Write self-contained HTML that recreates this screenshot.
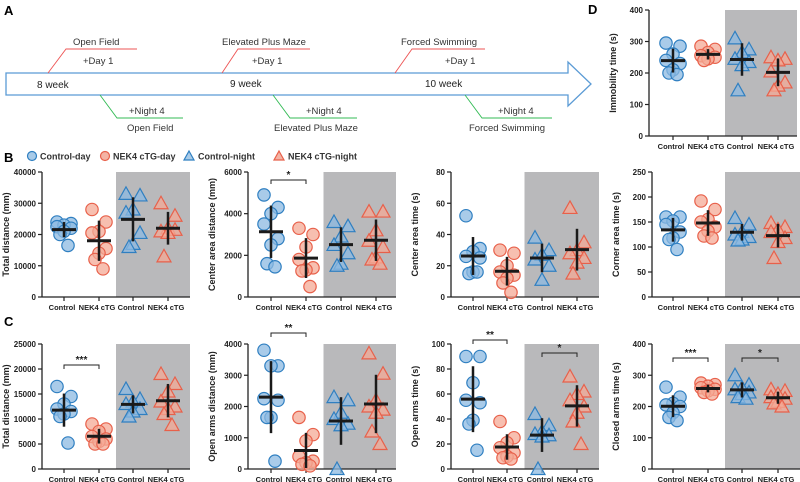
<!DOCTYPE html>
<html><head><meta charset="utf-8"><style>
html,body{margin:0;padding:0;background:#fff;}
svg{display:block;font-family:"Liberation Sans",Arial,sans-serif;}
</style></head><body>
<svg id="fig" width="800" height="482" viewBox="0 0 800 482" xmlns="http://www.w3.org/2000/svg">
<g>
<text x="4" y="15" font-size="13" font-weight="bold">A</text>
<path d="M6,73 H568 V62 L591,84 L568,106 V95 H6 Z" fill="#fff" stroke="#5b9bd5" stroke-width="1.3"/>
<text x="37" y="88" font-size="10" fill="#222">8 week</text>
<text x="230" y="87" font-size="10" fill="#222">9 week</text>
<text x="425" y="87" font-size="10" fill="#222">10 week</text>
<g stroke="#ee5555" fill="none" stroke-width="0.9">
<path d="M48,73 L66,49 H137"/><path d="M222,73 L238,49 H310"/><path d="M395,73 L412,49 H485"/></g>
<g stroke="#33bb55" fill="none" stroke-width="0.9">
<path d="M100,95 L117,118 H183"/><path d="M273,95 L290,118 H357"/><path d="M465,95 L482,118 H552"/></g>
<g font-size="9.5" fill="#333">
<text x="73" y="45">Open Field</text>
<text x="83" y="64">+Day 1</text>
<text x="222" y="45">Elevated Plus Maze</text>
<text x="252" y="64">+Day 1</text>
<text x="401" y="45">Forced Swimming</text>
<text x="445" y="64">+Day 1</text>
<text x="129" y="114">+Night 4</text>
<text x="127" y="131">Open Field</text>
<text x="306" y="114">+Night 4</text>
<text x="274" y="131">Elevated Plus Maze</text>
<text x="498" y="114">+Night 4</text>
<text x="469" y="131">Forced Swimming</text>
</g></g>
<text x="4" y="162" font-size="13" font-weight="bold">B</text>
<text x="4" y="326" font-size="13" font-weight="bold">C</text>
<text x="588" y="14" font-size="13" font-weight="bold">D</text>
<g font-size="9" font-weight="bold" fill="#333">
<circle cx="32" cy="156" r="4.5" fill="#a9cbe8" stroke="#2f7fc1" stroke-width="1.2"/><text x="40" y="159.5">Control-day</text>
<circle cx="105" cy="156" r="4.5" fill="#f4b3a4" stroke="#e8604a" stroke-width="1.2"/><text x="113" y="159.5">NEK4 cTG-day</text>
<path d="M189,151 L194,160 H184 Z" fill="#a9cbe8" stroke="#2f7fc1" stroke-width="1.2"/><text x="198" y="159.5">Control-night</text>
<path d="M279,151 L284,160 H274 Z" fill="#f4b3a4" stroke="#e8604a" stroke-width="1.2"/><text x="288" y="159.5">NEK4 cTG-night</text>
</g>
<g id="charts"></g>
</svg>
<script>
// ---- data ----
const categories = ["Control","NEK4 cTG","Control","NEK4 cTG"];
const b1CtrlDay=[24000,23500,23000,22500,22000,21000,20000,16500];
const b1NekDay=[28000,24000,21000,20500,15500,14000,12000,9000];
const b1CtrlNight=[33000,32500,28000,27000,20500,17000,16000];
const b1NekNight=[30000,26000,22000,21000,21500,20500,13000];
const b2CtrlDay=[4900,4300,4000,3500,2800,2500,1600,1450];
const b2NekDay=[3300,3000,2400,1800,1400,1300,1250,500];
const b2CtrlNight=[3600,3400,2900,2500,2100,1600,1500];
const b2NekNight=[4100,4100,3200,2700,2400,1900,1800,1600];
const b3CtrlDay=[52,31,29,26,25,16,15,16];
const b3NekDay=[30,28,20,16,14,12,9,3];
const b3CtrlNight=[38,30,27,24,20,11];
const b3NekNight=[57,35,30,28,25,22,15];
const d1CtrlDay=[295,285,260,240,230,210,200,195];
const d1NekDay=[285,275,265,255,250,245,240];
const d1CtrlNight=[310,275,265,245,235,225,145];
const d1NekNight=[250,245,240,205,170,160,145];
const d2CtrlDay=[160,160,152,145,130,118,115,95];
const d2NekDay=[192,175,155,150,140,132,122,118];
const d2CtrlNight=[158,145,130,125,120,115,113];
const d2NekNight=[148,140,135,130,118,110,78];
const c1CtrlDay=[16500,14500,13000,12000,11500,11000,10500,5200];
const c1NekDay=[9000,8000,7500,6500,6000,5500,5000,5000];
const c1CtrlNight=[16000,14000,13500,13000,12000,11500,10500];
const c1NekNight=[19000,17000,15500,13500,12500,12000,11000,8800];
const c2CtrlDay=[3800,3300,3300,2250,2200,1650,1650,250];
const c2NekDay=[1650,1100,900,400,250,200,150,100];
const c2CtrlNight=[2300,2200,1800,1600,1450,1400,0];
const c2NekNight=[3700,3050,2200,2000,1900,1800,1200,800];
const c3CtrlDay=[90,90,69,55,53,39,36,15];
const c3NekDay=[38,25,21,17,13,10,9,8];
const c3CtrlNight=[44,35,30,28,27,26,0];
const c3NekNight=[74,62,60,55,50,45,38,20];
const c4CtrlDay=[262,230,210,205,200,180,165,155];
const c4NekDay=[275,270,265,260,255,250,245,240];
const c4CtrlNight=[300,270,260,255,245,240,230,225];
const c4NekNight=[255,250,240,230,225,215,210,200];

const panels=[
 {n:"total-distance-of",ax:42,top:172,bot:297,max:40000,step:10000,title:"Total distance (mm)",cx:[64,99,133,168],d:[b1CtrlDay,b1NekDay,b1CtrlNight,b1NekNight],sig:[]},
 {n:"center-area-distance",ax:248,top:172,bot:297,max:6000,step:2000,title:"Center area distance (mm)",cx:[271,306,341,376],d:[b2CtrlDay,b2NekDay,b2CtrlNight,b2NekNight],sig:[[0,1,180,"*"]]},
 {n:"center-area-time",ax:451,top:172,bot:297,max:80,step:20,title:"Center area time (s)",cx:[473,507,542,577],d:[b3CtrlDay,b3NekDay,b3CtrlNight,b3NekNight],sig:[]},
 {n:"immobility-time",ax:649,top:10,bot:136,max:400,step:100,title:"Immobility time (s)",cx:[673,708,742,778],d:[d1CtrlDay,d1NekDay,d1CtrlNight,d1NekNight],sig:[]},
 {n:"corner-area-time",ax:652,top:172,bot:297,max:250,step:50,title:"Corner area time (s)",cx:[673,708,742,778],d:[d2CtrlDay,d2NekDay,d2CtrlNight,d2NekNight],sig:[]},
 {n:"total-distance-epm",ax:42,top:344,bot:469,max:25000,step:5000,title:"Total distance (mm)",cx:[64,99,133,168],d:[c1CtrlDay,c1NekDay,c1CtrlNight,c1NekNight],sig:[[0,1,365,"***"]]},
 {n:"open-arms-distance",ax:248,top:344,bot:469,max:4000,step:1000,title:"Open arms distance (mm)",cx:[271,306,341,376],d:[c2CtrlDay,c2NekDay,c2CtrlNight,c2NekNight],sig:[[0,1,333,"**"]]},
 {n:"open-arms-time",ax:451,top:344,bot:469,max:100,step:20,title:"Open arms time (s)",cx:[473,507,542,577],d:[c3CtrlDay,c3NekDay,c3CtrlNight,c3NekNight],sig:[[0,1,340,"**"],[2,3,353,"*"]]},
 {n:"closed-arms-time",ax:652,top:344,bot:469,max:400,step:100,title:"Closed arms time (s)",cx:[673,708,742,778],d:[c4CtrlDay,c4NekDay,c4CtrlNight,c4NekNight],sig:[[0,1,358,"***"],[2,3,358,"*"]]}
];
const NS="http://www.w3.org/2000/svg";
const root=document.getElementById("charts");
function mk(tag,attrs,parent){const e=document.createElementNS(NS,tag);for(const k in attrs)e.setAttribute(k,attrs[k]);parent.appendChild(e);return e;}
const jit=[-7,7,0,-7,7,0,-4,4];
const blue={s:"#2f7fc1",f:"rgba(140,185,225,0.75)"},red={s:"#e8604a",f:"rgba(244,170,150,0.75)"};
panels.forEach(p=>{
 const g=mk("g",{},root);
 
 
 const y=v=>p.bot-(v/p.max)*(p.bot-p.top);
 const gx0=(p.cx[1]+p.cx[2])/2, gx1=p.ax+148;
 const bg=mk("rect",{x:gx0,y:p.top,width:gx1-gx0,height:p.bot-p.top,fill:"#b9b9bb"},g);
 
 
 const ya=mk("line",{x1:p.ax,y1:p.top,x2:p.ax,y2:p.bot,stroke:"#222","stroke-width":1.3},g);
 
 
 const xa=mk("line",{x1:p.ax,y1:p.bot,x2:gx1,y2:p.bot,stroke:"#222","stroke-width":1.3},g);
 
 
 for(let v=0;v<=p.max;v+=p.step){
  mk("line",{x1:p.ax-4,y1:y(v),x2:p.ax,y2:y(v),stroke:"#222","stroke-width":1.2},g);
  const t=mk("text",{x:p.ax-6,y:y(v)+3,"font-size":8,"font-weight":"bold","text-anchor":"end",fill:"#222"},g);
  t.textContent=v;
  
  
 }
 const yt=mk("text",{x:0,y:0,"font-size":9,"font-weight":"bold","text-anchor":"middle",fill:"#222",transform:`translate(${p.ax-33},${(p.top+p.bot)/2}) rotate(-90)`},g);
 yt.textContent=p.title;
 
 
 categories.forEach((c,i)=>{
  mk("line",{x1:p.cx[i],y1:p.bot,x2:p.cx[i],y2:p.bot+4,stroke:"#222","stroke-width":1.2},g);
  const t=mk("text",{x:p.cx[i]-2,y:p.bot+13,"font-size":7.5,"font-weight":"bold","text-anchor":"middle",fill:"#222"},g);
  t.textContent=c;
  
  
 });
 p.d.forEach((arr,gi)=>{
  const col=(gi%2===0)?blue:red, tri=gi>=2;
  arr.forEach((v,i)=>{
   const x=p.cx[gi]+jit[i%jit.length], yy=y(v);
   let m;
   if(tri) m=mk("path",{d:`M${x},${yy-7} L${x+7},${yy+5.5} H${x-7} Z`,fill:col.f,stroke:col.s,"stroke-width":1.2},g);
   else m=mk("circle",{cx:x,cy:yy,r:6.2,fill:col.f,stroke:col.s,"stroke-width":1.2},g);
   
   
  });
  const mean=arr.reduce((a,b)=>a+b,0)/arr.length;
  const sd=Math.sqrt(arr.reduce((a,b)=>a+(b-mean)*(b-mean),0)/(arr.length-1));
  const eb=mk("line",{x1:p.cx[gi],y1:y(mean+sd),x2:p.cx[gi],y2:y(Math.max(0,mean-sd)),stroke:"#1a1a1a","stroke-width":2.5},g);
  
  
  const ml=mk("line",{x1:p.cx[gi]-12,y1:y(mean),x2:p.cx[gi]+12,y2:y(mean),stroke:"#1a1a1a","stroke-width":3},g);
  
  
 });
 p.sig.forEach(s=>{
  const x1=p.cx[s[0]],x2=p.cx[s[1]],by=s[2];
  const b=mk("path",{d:`M${x1},${by+4} V${by} H${x2} V${by+4}`,fill:"none",stroke:"#222","stroke-width":1},g);
  
  
  const t=mk("text",{x:(x1+x2)/2,y:by-2,"font-size":10,"font-weight":"bold","text-anchor":"middle",fill:"#222"},g);
  t.textContent=s[3];
  
  
 });
});
</script>
</body></html>
